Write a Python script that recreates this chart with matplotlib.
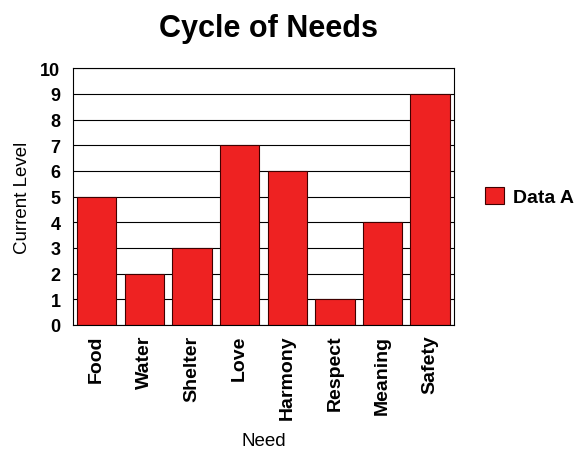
import matplotlib
matplotlib.use("Agg")
import matplotlib.pyplot as plt

needs = ["Food", "Water", "Shelter", "Love", "Harmony", "Respect", "Meaning", "Safety"]
levels = [5, 2, 3, 7, 6, 1, 4, 9]
series_name = "Data A"

plt.rcParams["font.family"] = ["Liberation Sans", "DejaVu Sans"]

fig = plt.figure(figsize=(5.74, 4.52), dpi=100)
ax = fig.add_axes([0.127, 0.279, 0.664, 0.568])

ax.set_axisbelow(True)
ax.grid(axis="y", color="black", linewidth=0.8)
ax.bar(range(len(needs)), levels, width=0.83, color="#ee2222",
       edgecolor="#400000", linewidth=0.8, label=series_name)

ax.set_xlim(-0.5, len(needs) - 0.5)
ax.set_ylim(0, 10)
ax.set_yticks(range(0, 11))
ax.set_xticks(range(len(needs)))
ax.set_xticklabels(needs, rotation=90, fontweight="bold", fontsize=14)
for lbl in ax.get_yticklabels():
    lbl.set_fontweight("bold")
    lbl.set_fontsize(13)
ax.tick_params(axis="y", length=0, pad=9)
ax.tick_params(axis="x", length=0, pad=7)

for sp in ax.spines.values():
    sp.set_linewidth(0.8)

ax.set_xlabel("Need", fontsize=13.5, labelpad=9)
ax.set_ylabel("Current Level", fontsize=13.5, labelpad=7)
ax.set_title("Cycle of Needs", fontsize=22, fontweight="bold", pad=23, x=0.513)

ax.legend(loc="center left", bbox_to_anchor=(1.035, 0.5), frameon=False,
          prop={"weight": "bold", "size": 14}, handlelength=1.0,
          handleheight=1.0, handletextpad=0.46)

fig.savefig("out.png", dpi=100)
